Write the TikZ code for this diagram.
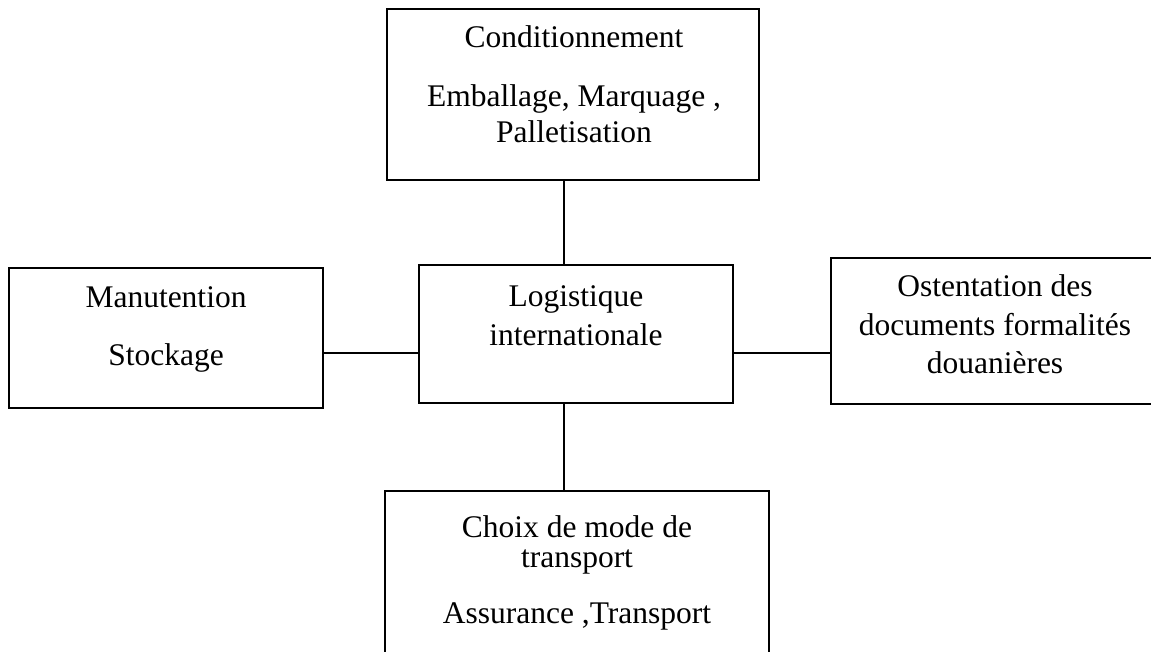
\documentclass[tikz,border=0pt]{standalone}
\usepackage{fontspec}
\setmainfont{Liberation Serif}
\begin{document}
\begin{tikzpicture}[x=1pt,y=-1pt,
  boxstyle/.style={draw=black,line width=1.6pt,rectangle,inner sep=0pt},
  txt/.style={anchor=base,inner sep=0pt,font=\fontsize{31.5}{36}\selectfont},
  link/.style={draw=black,line width=1.6pt}]
\useasboundingbox (0,0) rectangle (1151,652);
\clip (0,0) rectangle (1151,652);
% boxes
\node[boxstyle,minimum width=372pt,minimum height=171pt] (top) at (573,94.5) {};
\node[boxstyle,minimum width=314pt,minimum height=138pt] (center) at (576,334) {};
\node[boxstyle,minimum width=314pt,minimum height=140pt] (left) at (166,338) {};
\node[boxstyle,minimum width=330pt,minimum height=146pt] (right) at (996,331) {};
\node[boxstyle,minimum width=384pt,minimum height=180pt] (bottom) at (577,581) {};
% texts
\node[txt] (t1) at (574,48) {Conditionnement};
\node[txt] (t2) at (574,107) {Emballage, Marquage ,};
\node[txt] (t3) at (574,143) {Palletisation};
\node[txt] (c1) at (576,306) {Logistique};
\node[txt] (c2) at (576,345) {internationale};
\node[txt] (l1) at (166,308) {Manutention};
\node[txt] (l2) at (166,365) {Stockage};
\node[txt] (r1) at (995,297) {Ostentation des};
\node[txt] (r2) at (995,335) {documents formalités};
\node[txt] (r3) at (995,373) {douanières};
\node[txt] (b1) at (577,537) {Choix de mode de};
\node[txt] (b2) at (577,567) {transport};
\node[txt] (b3) at (577,623) {Assurance ,Transport};
% connectors
\coordinate (ct) at (564,0);
\draw[link] (top.south -| ct) -- (center.north -| ct);
\draw[link] (center.south -| ct) -- (bottom.north -| ct);
\coordinate (ch) at (0,353);
\draw[link] (left.east |- ch) -- (center.west |- ch);
\draw[link] (center.east |- ch) -- (right.west |- ch);
\end{tikzpicture}
\end{document}
